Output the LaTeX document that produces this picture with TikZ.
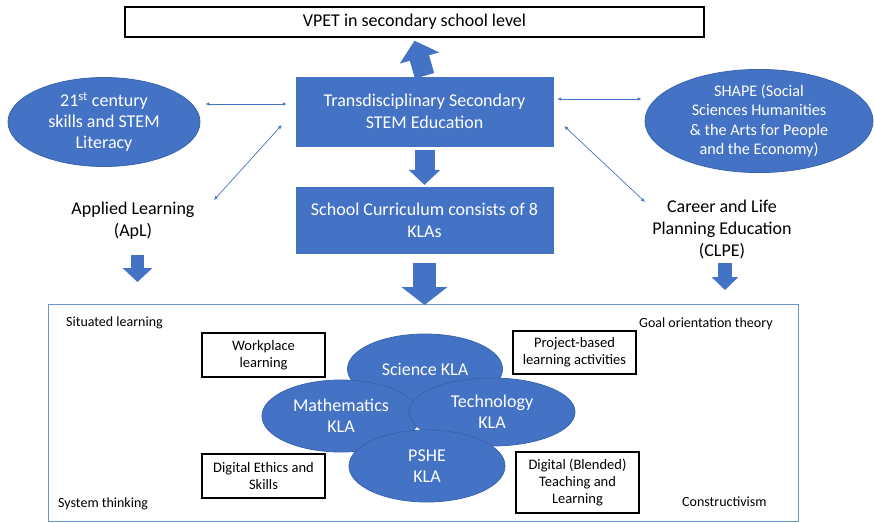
\documentclass[tikz,border=0pt]{standalone}
\usepackage{fontspec}
\setmainfont{Carlito}
\usetikzlibrary{arrows.meta,shapes.geometric}
\definecolor{offblue}{HTML}{4472C4}
\definecolor{offline}{HTML}{3A64AE}
\definecolor{frameblue}{HTML}{6F95CF}
\tikzset{
  bluebox/.style={draw=offblue,fill=offblue,text=white,inner sep=0pt,align=center,
    font=\fontsize{18}{22}\selectfont},
  blueoval/.style={ellipse,draw=offline,line width=0.8pt,fill=offblue,text=white,inner sep=0pt,
    align=center,font=\fontsize{18}{21}\selectfont},
  blackbox/.style={draw=black,line width=1.4pt,inner sep=0pt,align=center,
    font=\fontsize{14.5}{17}\selectfont},
  plain/.style={inner sep=0pt,align=center,font=\fontsize{18}{22}\selectfont},
  theory/.style={inner sep=0pt,anchor=west,font=\fontsize{14}{17}\selectfont},
  link/.style={draw=offblue,line width=0.7pt,{Latex[length=4pt,width=3.5pt]}-{Latex[length=4pt,width=3.5pt]}},
  fatarrow/.style={draw=offblue,line width=#1}
}
\begin{document}
\begin{tikzpicture}[x=1pt,y=-1pt]
  \useasboundingbox (0,0) rectangle (874,522);
  % top part
  \node[draw=black,line width=1.4pt,minimum width=579pt,minimum height=30pt,inner sep=0pt,
    font=\fontsize{18}{22}\selectfont] (vpet) at (414.5,22) {VPET in secondary school level};
  \node[bluebox,minimum width=257pt,minimum height=69pt] (stem) at (424.5,111.5)
    {Transdisciplinary Secondary\\STEM Education};
  \node[bluebox,minimum width=257pt,minimum height=66pt] (curr) at (424.5,220)
    {School Curriculum consists of 8\\KLAs};
  \node[blueoval,minimum width=192pt,minimum height=89pt] (skills) at (104,122)
    {21\textsuperscript{st} century\\skills and STEM\\Literacy};
  \node[blueoval,minimum width=228pt,minimum height=92pt,font=\fontsize{16.2}{19.5}\selectfont] (shape) at (759,121)
    {SHAPE (Social\\Sciences Humanities\\\& the Arts for People\\and the Economy)};
  \node[plain] (apl) at (133,221) {Applied Learning\\(ApL)};
  \node[plain] (clpe) at (722,229) {Career and Life\\Planning Education\\(CLPE)};

  % bottom frame
  \draw[frameblue,line width=1pt] (48,304) rectangle (798,521);
  \node[theory] (situated) at (66,323) {Situated learning};
  \node[theory] (system) at (58,504) {System thinking};
  \node[theory] (goal) at (639,324) {Goal orientation theory};
  \node[theory] (constr) at (682,502) {Constructivism};
  \node[blackbox,minimum width=123pt,minimum height=44pt] (work) at (263.5,355) {Workplace\\learning};
  \node[blackbox,minimum width=123pt,minimum height=44pt] (ethics) at (263.5,476) {Digital Ethics and\\Skills};
  \node[blackbox,minimum width=123pt,minimum height=43pt] (project) at (574.5,352.5) {Project-based\\learning activities};
  \node[blackbox,minimum width=123pt,minimum height=61pt] (blended) at (577.5,482.5) {Digital (Blended)\\Teaching and\\Learning};
  \node[blueoval,minimum width=155pt,minimum height=70pt] (sci) at (425,369) {Science KLA};
  \node[blueoval,minimum width=158pt,minimum height=72pt] (math) at (341,416) {Mathematics\\KLA};
  \node[blueoval,minimum width=166pt,minimum height=68pt] (tech) at (492,412) {Technology\\KLA};
  \node[blueoval,minimum width=156pt,minimum height=72pt] (pshe) at (427,466) {PSHE\\KLA};

  % block arrows
  \draw[fatarrow=20pt,-{Triangle[length=18pt,width=40pt]}] ([yshift=1pt]stem.north) -- ([yshift=-3pt]vpet.south);
  \draw[fatarrow=20pt,-{Triangle[length=15pt,width=31pt]}] ([yshift=-4pt]stem.south) -- ([yshift=2pt]curr.north);
  \draw[fatarrow=23pt,-{Triangle[length=18pt,width=45pt]}] ([yshift=-10pt]curr.south) -- (424.5,305);
  \coordinate (aplend) at (137.5,282);
  \coordinate (clpeend) at (725,290);
  \draw[fatarrow=13pt,-{Triangle[length=14pt,width=29pt]}] (137.5,255) -- (aplend);
  \draw[fatarrow=14pt,-{Triangle[length=13pt,width=26pt]}] (725,263) -- (clpeend);

  % thin links
  \begin{scope}
    \draw[link,shorten <=5pt,shorten >=9pt] ([yshift=18pt]skills.east) -- ([yshift=7.5pt]stem.west);
    \draw[link] (214,200) -- ([xshift=-14pt,yshift=-13.5pt]stem.west);
    \draw[link,shorten <=4pt,shorten >=3pt] ([yshift=12.5pt]stem.east) -- ([yshift=22pt]shape.west);
    \draw[link] ([xshift=11pt,yshift=-14.5pt]stem.east) -- (645,202);
  \end{scope}
\end{tikzpicture}
\end{document}
